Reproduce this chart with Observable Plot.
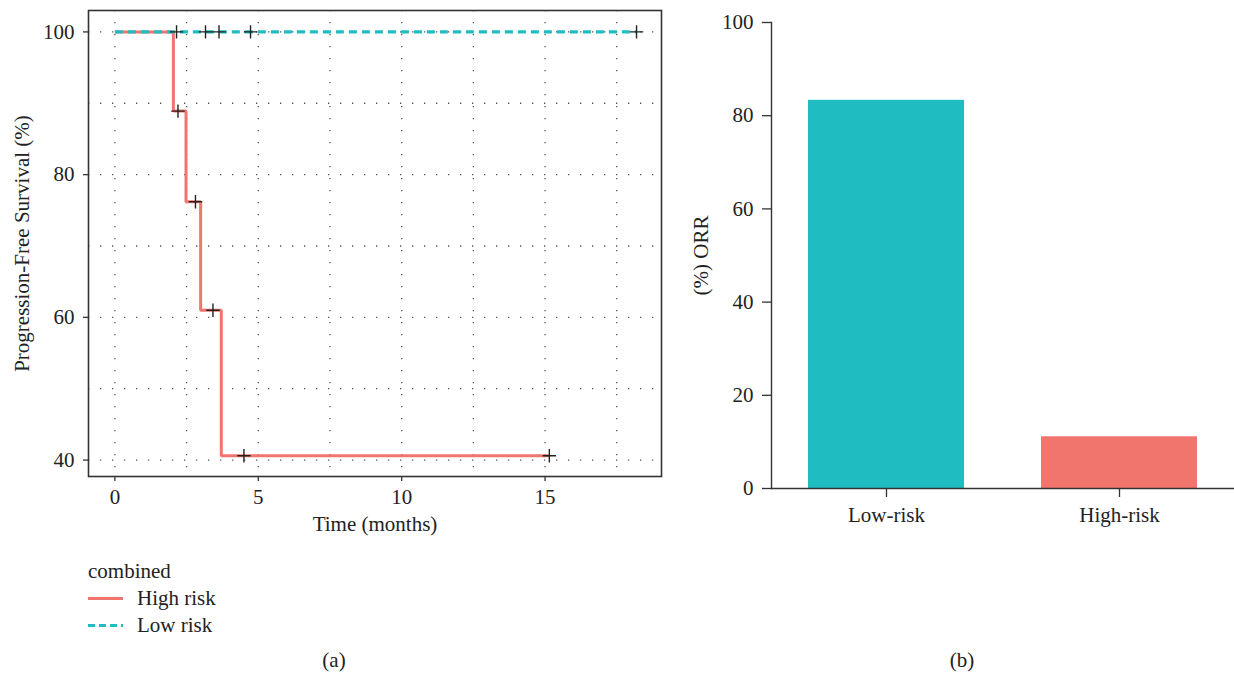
<!DOCTYPE html>
<html>
<head>
<meta charset="utf-8">
<script src="https://cdn.jsdelivr.net/npm/d3@7"></script>
<script src="https://cdn.jsdelivr.net/npm/@observablehq/plot@0.6"></script>
<style>
  html, body { margin: 0; padding: 0; background: #fff; }
  #root { position: relative; width: 1234px; height: 675px; font-family: "Liberation Serif", "Times New Roman", serif; color: #222; overflow: hidden; }
  #left { position: absolute; left: 0; top: 0; }
  #right { position: absolute; left: 680px; top: 0; }
  #legend { position: absolute; left: 88px; top: 558px; font-size: 21px; line-height: 27px; }
  .row { display: flex; align-items: center; height: 27px; }
  .row svg { margin-right: 13px; }
  .cap { position: absolute; top: 647px; font-size: 21px; line-height: 27px; transform: translateX(-50%); }
  svg text { font-family: "Liberation Serif", "Times New Roman", serif; }
</style>
</head>
<body>
<div id="root">
  <div id="left"></div>
  <div id="right"></div>
  <div id="legend"></div>
  <div class="cap" id="capA" style="left:334px"></div>
  <div class="cap" id="capB" style="left:962px"></div>
</div>
<script>
// ---- Data ----
const groups = ["High risk", "Low risk"];
const groupColors = ["#F1756D", "#1FBDC2"];
const legendTitle = "combined";

// Kaplan–Meier step points (time in months, PFS %)
const highTime = [0, 2.04, 2.48, 2.99, 3.71, 15.15];
const highSurv = [100, 88.9, 76.2, 61.0, 40.6, 40.6];
const lowTime = [0, 18.19];
const lowSurv = [100, 100];

// Censor marks
const highCensorTime = [2.2, 2.81, 3.42, 4.5, 15.15];
const highCensorSurv = [88.9, 76.2, 61.0, 40.6, 40.6];
const lowCensorTime = [2.15, 3.16, 3.63, 4.73, 18.19];
const lowCensorSurv = [100, 100, 100, 100, 100];

const kmXTicks = [0, 5, 10, 15];
const kmYTicks = [40, 60, 80, 100];
const kmXGrid = [0, 2.5, 5, 7.5, 10, 12.5, 15, 17.5];
const kmYGrid = [40, 50, 60, 70, 80, 90, 100];

// ORR bar chart
const orrCats = ["Low-risk", "High-risk"];
const orrValues = [83.3, 11.1];
const orrColors = ["#1FBDC2", "#F1756D"];
const orrYTicks = [0, 20, 40, 60, 80, 100];

// ---- Build tables ----
const highLine = highTime.map((t, i) => ({t, s: highSurv[i], g: groups[0]}));
const lowLine = lowTime.map((t, i) => ({t, s: lowSurv[i], g: groups[1]}));
const censors = [
  ...highCensorTime.map((t, i) => ({t, s: highCensorSurv[i]})),
  ...lowCensorTime.map((t, i) => ({t, s: lowCensorSurv[i]}))
];
const orr = orrCats.map((c, i) => ({cat: c, v: orrValues[i]}));

const font = '"Liberation Serif", "Times New Roman", serif';
const fs = 21;

// ---- Left: KM curve ----
const km = Plot.plot({
  width: 680,
  height: 545,
  marginLeft: 88,
  marginRight: 19,
  marginTop: 10,
  marginBottom: 69,
  style: {fontFamily: font, fontSize: fs + "px", color: "#222", background: "white"},
  x: {domain: [-0.92, 19.06]},
  y: {domain: [37.7, 103.0]},
  color: {domain: groups, range: groupColors},
  marks: [
    Plot.gridX(kmXGrid, {stroke: "#555", strokeOpacity: 1, strokeWidth: 1.3, strokeDasharray: "1.3,10.7"}),
    Plot.gridY(kmYGrid, {stroke: "#555", strokeOpacity: 1, strokeWidth: 1.3, strokeDasharray: "1.3,10.7"}),
    Plot.frame({stroke: "#333", strokeWidth: 1.6}),
    Plot.axisX({ticks: kmXTicks, tickSize: 5, tickPadding: 8, label: null, stroke: "#333", strokeWidth: 1.3, fontFamily: font, fontSize: fs, fill: "#222"}),
    Plot.axisY({ticks: kmYTicks, tickSize: 5, tickPadding: 9, label: null, stroke: "#333", strokeWidth: 1.3, fontFamily: font, fontSize: fs, fill: "#222"}),
    Plot.line(highLine, {x: "t", y: "s", stroke: "g", curve: "step-after", strokeWidth: 3, strokeLinecap: "butt", strokeLinejoin: "miter"}),
    Plot.line(lowLine, {x: "t", y: "s", stroke: "g", strokeWidth: 3.2, strokeDasharray: "8,5", strokeLinecap: "butt"}),
    Plot.dot(censors, {x: "t", y: "s", symbol: "plus", r: 4.4, stroke: "#222", strokeWidth: 1.4}),
    Plot.text(["Progression-Free Survival (%)"], {text: d => d, frameAnchor: "left", textAnchor: "middle", rotate: -90, dx: -66, fontSize: fs, fontFamily: font, fill: "#222"}),
    Plot.text(["Time (months)"], {text: d => d, frameAnchor: "bottom", textAnchor: "middle", dy: 54, fontSize: fs, fontFamily: font, fill: "#222"})
  ]
});
document.getElementById("left").appendChild(km);

// ---- Right: ORR bars ----
const bars = Plot.plot({
  width: 554,
  height: 545,
  marginLeft: 91,
  marginRight: 0,
  marginTop: 22,
  marginBottom: 57,
  style: {fontFamily: font, fontSize: fs + "px", color: "#222", background: "white"},
  x: {domain: orrCats, paddingInner: 0.331, paddingOuter: 0.158},
  y: {domain: [0, 100]},
  color: {domain: orrCats, range: orrColors},
  marks: [
    Plot.barY(orr, {x: "cat", y: "v", fill: "cat"}),
    Plot.frame({anchor: "left", stroke: "#333", strokeWidth: 1.4}),
    Plot.frame({anchor: "bottom", stroke: "#333", strokeWidth: 1.4}),
    Plot.axisX({tickSize: 9, tickPadding: 10, label: null, stroke: "#333", strokeWidth: 1.3, fontFamily: font, fontSize: fs, fill: "#222"}),
    Plot.axisY({ticks: orrYTicks, tickSize: 9, tickPadding: 9, label: null, stroke: "#333", strokeWidth: 1.3, fontFamily: font, fontSize: fs, fill: "#222"}),
    Plot.text(["(%) ORR"], {text: d => d, frameAnchor: "left", textAnchor: "middle", rotate: -90, dx: -70, fontSize: fs, fontFamily: font, fill: "#222"})
  ]
});
document.getElementById("right").appendChild(bars);

// ---- Legend ----
const legend = document.getElementById("legend");
const title = document.createElement("div");
title.className = "row";
title.textContent = legendTitle;
legend.appendChild(title);
groups.forEach((g, i) => {
  const row = document.createElement("div");
  row.className = "row";
  const dash = i === 1 ? ' stroke-dasharray="7,4"' : '';
  row.innerHTML = `<svg width="36" height="27"><line x1="0" x2="35" y1="13.5" y2="13.5" stroke="${groupColors[i]}" stroke-width="3"${dash}/></svg><span>${g}</span>`;
  legend.appendChild(row);
});

// ---- Captions ----
document.getElementById("capA").textContent = "(a)";
document.getElementById("capB").textContent = "(b)";
</script>
</body>
</html>
